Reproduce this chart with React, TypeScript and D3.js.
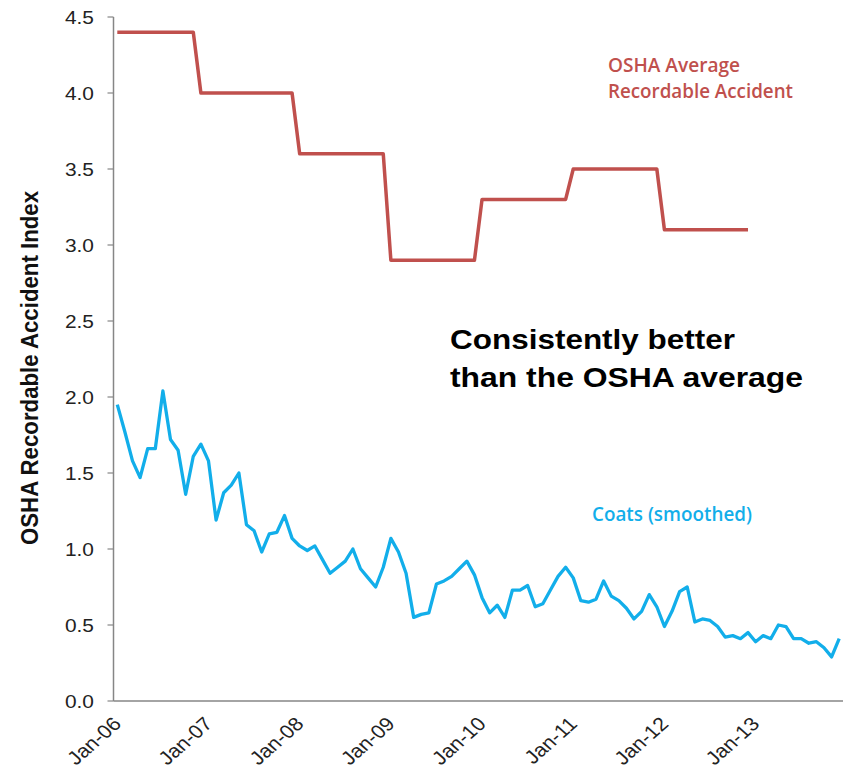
import React from "react";
import * as d3 from "d3";

const yearLabels = ["Jan-06", "Jan-07", "Jan-08", "Jan-09", "Jan-10", "Jan-11", "Jan-12", "Jan-13"];
const yTicks = [0, 0.5, 1, 1.5, 2, 2.5, 3, 3.5, 4, 4.5];

// OSHA average (monthly points)
const oshaValues = [
  4.4, 4.4, 4.4, 4.4, 4.4, 4.4, 4.4, 4.4, 4.4, 4.4, 4.4,
  4.0, 4.0, 4.0, 4.0, 4.0, 4.0, 4.0, 4.0, 4.0, 4.0, 4.0, 4.0, 4.0,
  3.6, 3.6, 3.6, 3.6, 3.6, 3.6, 3.6, 3.6, 3.6, 3.6, 3.6, 3.6,
  2.9, 2.9, 2.9, 2.9, 2.9, 2.9, 2.9, 2.9, 2.9, 2.9, 2.9, 2.9,
  3.3, 3.3, 3.3, 3.3, 3.3, 3.3, 3.3, 3.3, 3.3, 3.3, 3.3, 3.3,
  3.5, 3.5, 3.5, 3.5, 3.5, 3.5, 3.5, 3.5, 3.5, 3.5, 3.5, 3.5,
  3.1, 3.1, 3.1, 3.1, 3.1, 3.1, 3.1, 3.1, 3.1, 3.1, 3.1, 3.1,
];

// Coats (smoothed), monthly
const coatsValues = [
  1.95, 1.77, 1.58, 1.47, 1.66, 1.66, 2.04, 1.72, 1.65, 1.36, 1.61, 1.69,
  1.58, 1.19, 1.37, 1.42, 1.5, 1.16, 1.12, 0.98, 1.1, 1.11, 1.22, 1.07,
  1.02, 0.99, 1.02, 0.93, 0.84, 0.88, 0.92, 1.0, 0.87, 0.81, 0.75, 0.88,
  1.07, 0.98, 0.84, 0.55, 0.57, 0.58, 0.77, 0.79, 0.82, 0.87, 0.92, 0.83,
  0.68, 0.58, 0.63, 0.55, 0.73, 0.73, 0.76, 0.62, 0.64, 0.73, 0.82, 0.88,
  0.81, 0.66, 0.65, 0.67, 0.79, 0.69, 0.66, 0.61, 0.54, 0.59, 0.7, 0.62,
  0.49, 0.59, 0.72, 0.75, 0.52, 0.54, 0.53, 0.49, 0.42, 0.43, 0.41, 0.45,
  0.39, 0.43, 0.41, 0.5, 0.49, 0.41, 0.41, 0.38, 0.39, 0.35, 0.29, 0.41,
];

const W = 849;
const H = 775;
const SX = 1.13; // horizontal text stretch seen in the reference

export default function App() {
  const x = d3.scaleLinear().domain([0, 96]).range([113.5, 843]);
  const y = d3.scaleLinear().domain([0, 4.5]).range([701, 17]);

  const line = d3
    .line<number>()
    .x((_, i) => x(i + 0.5))
    .y((d) => y(d));

  const axisColor = "#868686";
  const sans = "'Liberation Sans', Arial, sans-serif";
  const calib = "'Open Sans', Lato, sans-serif";

  return (
    <svg
      width={W}
      height={H}
      style={{ position: "absolute", left: 0, top: 0, background: "#fff" }}
    >
      <rect x={0} y={0} width={W} height={H} fill="#fff" />
      {/* y axis */}
      <line x1={x(0)} x2={x(0)} y1={y(4.5)} y2={y(0)} stroke={axisColor} strokeWidth={1.5} />
      {yTicks.map((t) => (
        <g key={t}>
          <line x1={x(0) - 6} x2={x(0)} y1={y(t)} y2={y(t)} stroke={axisColor} strokeWidth={1.2} />
          <text
            transform={`translate(94, ${y(t) + 7}) scale(${SX},1)`}
            textAnchor="end"
            fontFamily={sans}
            fontSize={18.5}
            fill="#222"
          >
            {t.toFixed(1)}
          </text>
        </g>
      ))}
      {/* x axis */}
      <line x1={x(0)} x2={x(96)} y1={y(0)} y2={y(0)} stroke={axisColor} strokeWidth={1.5} />
      {yearLabels.map((lab, k) => (
        <text
          key={lab}
          transform={`translate(${x(k * 12) + 9}, ${y(0) + 24}) scale(${SX},1) rotate(-45)`}
          textAnchor="end"
          fontFamily={sans}
          fontSize={19}
          fill="#222"
        >
          {lab}
        </text>
      ))}
      {/* y title */}
      <text
        transform={`translate(38, 368) scale(${SX},1) rotate(-90)`}
        textAnchor="middle"
        fontFamily={sans}
        fontWeight="bold"
        fontSize={21}
        fill="#111"
        textLength={354}
        lengthAdjust="spacingAndGlyphs"
      >
        OSHA Recordable Accident Index
      </text>

      {/* series */}
      <path d={line(oshaValues) || ""} fill="none" stroke="#C0504D" strokeWidth={3.5} strokeLinejoin="round" />
      <path d={line(coatsValues) || ""} fill="none" stroke="#12AEEA" strokeWidth={3.3} strokeLinejoin="round" />

      {/* annotations */}
      <text x={608} y={72} fontFamily={calib} fontWeight={600} fontSize={19} fill="#C0504D" textLength={132} lengthAdjust="spacingAndGlyphs">
        OSHA Average
      </text>
      <text x={608} y={98} fontFamily={calib} fontWeight={600} fontSize={19} fill="#C0504D" textLength={185} lengthAdjust="spacingAndGlyphs">
        Recordable Accident
      </text>
      <text x={592} y={521} fontFamily={calib} fontWeight={600} fontSize={19} fill="#12AEEA" textLength={160} lengthAdjust="spacingAndGlyphs">
        Coats (smoothed)
      </text>
      <text x={450} y={349} fontFamily={sans} fontWeight="bold" fontSize={27} fill="#000" textLength={285} lengthAdjust="spacingAndGlyphs">
        Consistently better
      </text>
      <text x={450} y={387} fontFamily={sans} fontWeight="bold" fontSize={27} fill="#000" textLength={353} lengthAdjust="spacingAndGlyphs">
        than the OSHA average
      </text>
    </svg>
  );
}
